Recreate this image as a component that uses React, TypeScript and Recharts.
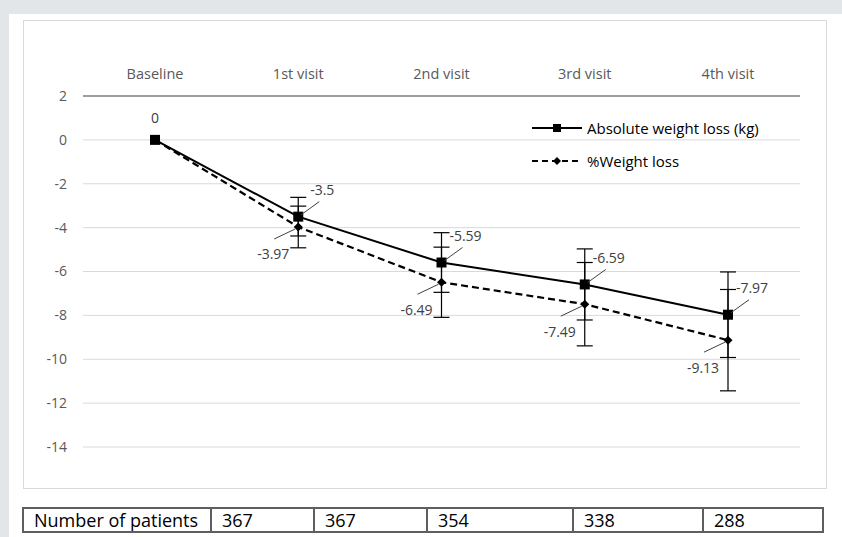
import { LineChart, Line, XAxis, YAxis, CartesianGrid, ErrorBar, LabelList, Legend } from 'recharts';

const visits = ['Baseline', '1st visit', '2nd visit', '3rd visit', '4th visit'];
const absoluteLoss = [0, -3.5, -5.59, -6.59, -7.97];
const absoluteErr = [0, 0.88, 1.36, 1.62, 1.95];
const percentLoss = [0, -3.97, -6.49, -7.49, -9.13];
const percentErr = [0, 0.95, 1.6, 1.9, 2.31];
const patients = [367, 367, 354, 338, 288];
const yTicks = [2, 0, -2, -4, -6, -8, -10, -12, -14];

const data = visits.map((v, i) => ({
  visit: v,
  abs: absoluteLoss[i],
  absErr: absoluteErr[i],
  pct: percentLoss[i],
  pctErr: percentErr[i],
}));

const FONT = '"Open Sans", Lato, sans-serif';
const colWidths = [190, 103, 113, 146, 130, 120];

const SquareDot = (props: any) => {
  const { cx, cy, index } = props;
  return <rect key={`sq-${index}`} x={cx - 5} y={cy - 5} width={10} height={10} fill="#000" />;
};

const DiamondDot = (props: any) => {
  const { cx, cy, index } = props;
  return (
    <path
      key={`dm-${index}`}
      d={`M${cx},${cy - 4.5} L${cx + 4.5},${cy} L${cx},${cy + 4.5} L${cx - 4.5},${cy} Z`}
      fill="#000"
    />
  );
};

// absolute series: label up-right with a leader line
const UpperLabel = (props: any) => {
  const { x, y, value, index } = props;
  if (index === 0) {
    return (
      <text x={x} y={y - 22} textAnchor="middle" dominantBaseline="central" fontSize={14} fill="#404040" fontFamily={FONT}>
        {value}
      </text>
    );
  }
  return (
    <g>
      <line x1={x + 3} y1={y - 2} x2={x + 21} y2={y - 15} stroke="#404040" strokeWidth={1} />
      <text x={x + 24} y={y - 27} textAnchor="middle" dominantBaseline="central" fontSize={14} fill="#404040" fontFamily={FONT}>
        {value}
      </text>
    </g>
  );
};

// % series: label down-left with a leader line
const LowerLabel = (props: any) => {
  const { x, y, value, index } = props;
  if (index === 0) return null;
  return (
    <g>
      <line x1={x - 3} y1={y + 2} x2={x - 24} y2={y + 12} stroke="#404040" strokeWidth={1} />
      <text x={x - 25} y={y + 27} textAnchor="middle" dominantBaseline="central" fontSize={14} fill="#404040" fontFamily={FONT}>
        {value}
      </text>
    </g>
  );
};

const LegendContent = (props: any) => {
  const items = [...(props.payload || [])].sort((a: any) => (a.dataKey === 'abs' ? -1 : 1));
  return (
    <div style={{ fontFamily: FONT, fontSize: 15, color: '#000' }}>
      {items.map((entry: any) => {
        const dashed = entry.dataKey === 'pct';
        return (
          <div key={entry.value} style={{ display: 'flex', alignItems: 'center', height: 33 }}>
            <svg width={52} height={12}>
              <line x1={0} y1={6} x2={50} y2={6} stroke="#000" strokeWidth={2} strokeDasharray={dashed ? '6 4' : undefined} />
              {dashed ? (
                <path d="M25,2 L29,6 L25,10 L21,6 Z" fill="#000" />
              ) : (
                <rect x={21} y={2} width={8} height={8} fill="#000" />
              )}
            </svg>
            <span style={{ marginLeft: 3 }}>{entry.value}</span>
          </div>
        );
      })}
    </div>
  );
};

const cellStyle = (w: number, first: boolean) => ({
  boxSizing: 'border-box' as const,
  width: w,
  height: 26,
  borderTop: '2px solid #5f5f5f',
  borderBottom: '2px solid #5f5f5f',
  borderRight: '2px solid #5f5f5f',
  borderLeft: first ? '2px solid #5f5f5f' : 'none',
  paddingLeft: 10,
  lineHeight: '22px',
  overflow: 'hidden',
  whiteSpace: 'nowrap' as const,
});

export default function App() {
  return (
    <div style={{ position: 'fixed', left: 0, top: 0, width: 842, height: 537, background: '#e3e6e8', overflow: 'hidden' }}>
      <div style={{ position: 'absolute', left: 9, top: 14, width: 833, height: 523, background: '#fff' }} />
      <div style={{ position: 'absolute', left: 23, top: 20, width: 802, height: 467, border: '1px solid #d9d9d9' }} />
      <div style={{ position: 'absolute', left: 0, top: 0 }}>
        <LineChart width={842} height={500} data={data} margin={{ top: 50, right: 42, left: 23, bottom: 53 }}>
          <CartesianGrid vertical={false} stroke="#d9d9d9" strokeWidth={1} />
          <XAxis
            dataKey="visit"
            orientation="top"
            height={46}
            padding={{ left: 72, right: 72 }}
            axisLine={{ stroke: '#868686', strokeWidth: 1.5 }}
            tickLine={false}
            tickSize={0}
            tickMargin={17}
            tick={{ fill: '#595959', fontSize: 14.5, fontFamily: FONT }}
            interval={0}
          />
          <YAxis
            domain={[-14, 2]}
            ticks={yTicks}
            width={60}
            axisLine={false}
            tickLine={false}
            tickSize={0}
            tickMargin={16}
            tick={{ fill: '#595959', fontSize: 14, fontFamily: FONT }}
            interval={0}
          />
          <Legend
            layout="horizontal"
            verticalAlign="middle"
            align="center"
            content={<LegendContent />}
            wrapperStyle={{ left: 532, top: 111, width: 295 }}
          />
          <Line
            dataKey="pct"
            name="%Weight loss"
            stroke="#000"
            strokeWidth={2.2}
            strokeDasharray="7 4"
            dot={DiamondDot}
            activeDot={false}
            isAnimationActive={false}
          >
            <ErrorBar dataKey="pctErr" direction="y" width={8} stroke="#000" strokeWidth={1.2} />
            <LabelList dataKey="pct" content={LowerLabel} />
          </Line>
          <Line
            dataKey="abs"
            name="Absolute weight loss (kg)"
            stroke="#000"
            strokeWidth={2}
            dot={SquareDot}
            activeDot={false}
            isAnimationActive={false}
          >
            <ErrorBar dataKey="absErr" direction="y" width={8} stroke="#000" strokeWidth={1.2} />
            <LabelList dataKey="abs" content={UpperLabel} />
          </Line>
        </LineChart>
      </div>
      <div
        style={{
          position: 'absolute',
          left: 22,
          top: 507,
          display: 'flex',
          fontFamily: FONT,
          fontSize: 18,
          color: '#000',
        }}
      >
        <div style={cellStyle(colWidths[0], true)}>Number of patients</div>
        {patients.map((n, i) => (
          <div key={i} style={cellStyle(colWidths[i + 1], false)}>
            {n}
          </div>
        ))}
      </div>
    </div>
  );
}
